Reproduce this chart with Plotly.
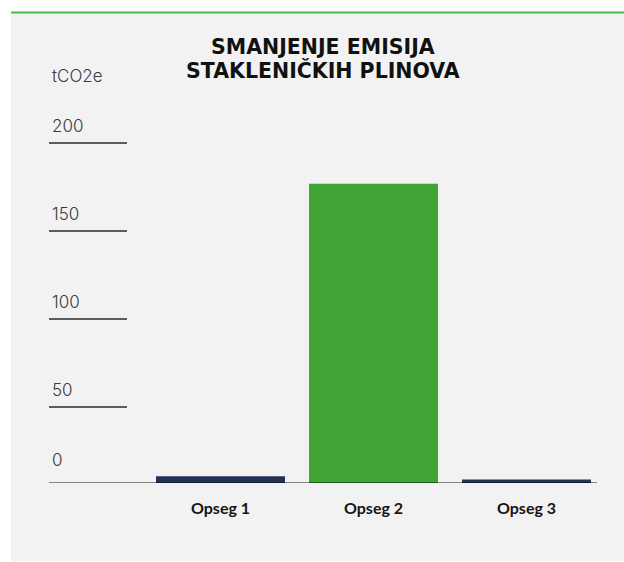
import plotly.graph_objects as go

# Chart data
categories = ["Opseg 1", "Opseg 2", "Opseg 3"]
values = [4, 176, 2]
bar_colors = ["#27305a", "#41a536", "#27305a"]
tick_values = [50, 100, 150, 200]
tick_labels = ["50", "100", "150", "200"]
zero_label = "0"
title_lines = ["SMANJENJE EMISIJA", "STAKLENIČKIH PLINOVA"]
unit_text = "tCO2e"

W, H = 624, 562


def px(x):
    return x / W


def py(y):
    return 1 - y / H


# Plot area spans y = 0..483 px; bars use 1.7 px per unit from the baseline,
# the printed grid uses 1.76 px per unit with its zero slightly lower.
base_px = 483
bar_scale = 1.7
grid_scale = 1.76
grid_zero_px = 495
cat_step = 153
cat0_px = 220.5

label_font = dict(family="Inter, Lato, sans-serif", size=17, color="#3a3a3a", weight=300)
title_font = dict(family="DejaVu Sans, sans-serif", size=20.5, color="#111111", weight=700)

fig = go.Figure()
fig.add_trace(go.Bar(
    x=categories, y=values, marker=dict(color=bar_colors, line_width=0),
    hoverinfo="x+y", showlegend=False,
))
# invisible trace to activate the grid axis
fig.add_trace(go.Scatter(x=[categories[0]], y=[100], yaxis="y2", mode="markers",
                         marker=dict(opacity=0), showlegend=False, hoverinfo="skip"))

shapes = [
    # panel
    dict(type="rect", xref="paper", yref="paper", x0=px(11), x1=px(W), y0=py(561), y1=py(13),
         fillcolor="#f2f2f2", line_width=0, layer="below"),
    # top green rule
    dict(type="line", xref="paper", yref="paper", x0=px(11), x1=px(W), y0=py(12.5), y1=py(12.5),
         line=dict(color="#4cb848", width=2)),
    # baseline
    dict(type="line", xref="paper", yref="y", x0=px(49), x1=px(597), y0=0, y1=0,
         line=dict(color="rgba(0,0,0,0.45)", width=2), layer="above"),
]
annotations = []
for v, t in zip(tick_values, tick_labels):
    shapes.append(dict(type="line", xref="paper", yref="y2", x0=px(49), x1=px(127), y0=v, y1=v,
                       line=dict(color="#2b2b2b", width=1.3)))
    annotations.append(dict(xref="paper", yref="y2", x=px(50), y=v, yshift=17, text=t,
                            showarrow=False, xanchor="left", yanchor="middle", font=label_font))
annotations.append(dict(xref="paper", yref="y", x=px(50), y=0, yshift=23, text=zero_label,
                        showarrow=False, xanchor="left", yanchor="middle", font=label_font))
annotations.append(dict(xref="paper", yref="paper", x=px(50), y=py(76), text=unit_text,
                        showarrow=False, xanchor="left", yanchor="middle", font=label_font))
for line, ypix in zip(title_lines, [47, 70.5]):
    annotations.append(dict(xref="paper", yref="paper", x=px(322.5), y=py(ypix), text=line,
                            showarrow=False, xanchor="center", yanchor="middle", font=title_font))

fig.update_layout(
    width=W, height=H,
    margin=dict(l=0, r=0, t=0, b=0),
    paper_bgcolor="white", plot_bgcolor="rgba(0,0,0,0)",
    bargap=1 - 129 / cat_step,
    xaxis=dict(
        range=[-cat0_px / cat_step, (W - cat0_px) / cat_step],
        showgrid=False, zeroline=False, showline=False, ticks="",
        tickfont=dict(family="Lato, Roboto, sans-serif", size=16, color="#151515", weight=700),
        ticklabelstandoff=14, fixedrange=True,
    ),
    yaxis=dict(
        domain=[(H - base_px) / H, 1],
        range=[0, base_px / bar_scale],
        showgrid=False, zeroline=False, showline=False, showticklabels=False, fixedrange=True,
    ),
    yaxis2=dict(
        domain=[(H - base_px) / H, 1], overlaying="y",
        range=[(grid_zero_px - base_px) / grid_scale, grid_zero_px / grid_scale],
        showgrid=False, zeroline=False, showline=False, showticklabels=False, fixedrange=True,
    ),
    shapes=shapes,
    annotations=annotations,
)

fig.write_html("out.html")
